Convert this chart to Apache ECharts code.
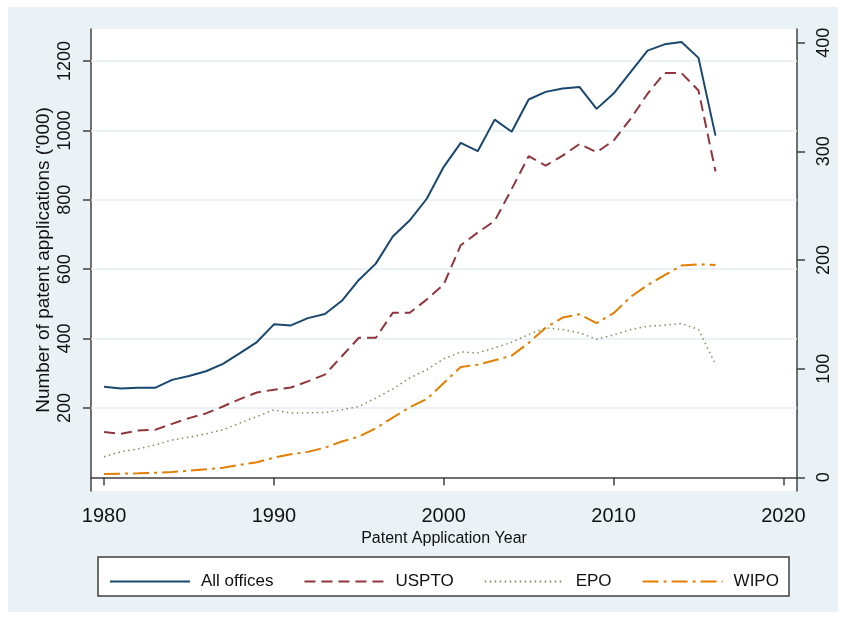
<!DOCTYPE html>
<html>
<head>
<meta charset="utf-8">
<script src="https://cdn.jsdelivr.net/npm/echarts@6/dist/echarts.min.js"></script>
<style>
  html, body { margin: 0; padding: 0; background: #fff; }
  #chart { width: 846px; height: 619px; }
</style>
</head>
<body>
<div id="chart"></div>
<script>
// 年份
const years = []
for (let y = 1980; y <= 2016; y++) years.push(y)
// 数据（千件）
const allOffices = [261, 256, 258, 258, 281, 292, 306, 327, 358, 390, 441, 438, 459, 471, 509, 569, 616, 694, 741, 803,
  895, 964, 940, 1031, 996, 1089, 1111, 1121, 1125, 1062, 1106, 1168, 1230, 1248, 1255, 1209, 985]
const uspto = [41.6, 40.0, 43.0, 43.7, 49.2, 54.5, 58.8, 65.2, 72.0, 78.1, 80.6, 82.7, 88.3, 94.5, 111.4, 128.4, 128.4, 151.4, 151.4, 163.7,
  177.6, 213.6, 225.3, 236, 265.3, 295.5, 286.8, 296, 306.8, 299.2, 309.9, 329.9, 353, 372, 372, 356, 281.6]
const epo = [19.0, 23.6, 26.1, 29.8, 34.4, 36.9, 40.0, 43.7, 49.9, 56.0, 62.1, 59.1, 59.4, 59.7, 62.1, 65.2, 72.9, 81.3, 91.4, 99.1,
  109, 115.4, 114.5, 119.1, 124.3, 131.4, 137.6, 136, 133, 127, 131, 136, 139, 140, 141.6, 136, 104]
const wipo = [3.0, 3.3, 3.7, 4.2, 4.9, 6.1, 7.4, 8.9, 11.4, 13.9, 18.1, 21.2, 23.4, 27.3, 32.9, 37.5, 45.2, 55.0, 64.6, 72.0,
  86.8, 101.6, 103.7, 107.7, 112, 123.7, 137.6, 147, 150, 142, 151, 166, 177, 186, 195, 196, 195.4]
// 刻度
const xTicks = [1980, 1990, 2000, 2010, 2020]
const leftTicks = [200, 400, 600, 800, 1000, 1200]
const rightTicks = [0, 100, 200, 300, 400]

const pair = arr => arr.map((v, i) => [years[i], v])
const font = 'Liberation Sans, Arial, sans-serif'
const axisCol = '#404040'
const plain = v => String(v)

const chart = echarts.init(document.getElementById('chart'))
chart.setOption({
  backgroundColor: '#ffffff',
  animation: false,
  graphic: [
    { type: 'rect', z: -100, shape: { x: 8, y: 7, width: 830, height: 605 }, style: { fill: '#eaf2f5' } },
    { type: 'rect', z: -50, shape: { x: 98, y: 557, width: 691, height: 39 },
      style: { fill: '#ffffff', stroke: axisCol, lineWidth: 1.5 } }
  ],
  grid: { left: 91, right: 49, top: 29, bottom: 128, show: true, backgroundColor: '#ffffff', borderWidth: 0 },
  legend: {
    left: 104, top: 568, itemWidth: 80, itemHeight: 14, itemGap: 30,
    itemStyle: { opacity: 0 },
    textStyle: { fontFamily: font, fontSize: 17, color: '#111', padding: [0, 0, 0, 6] },
    data: ['All offices', 'USPTO', 'EPO', 'WIPO']
  },
  xAxis: {
    type: 'value', min: 1979.23, max: 2020.8,
    name: 'Patent Application Year', nameLocation: 'middle', nameGap: 38,
    nameTextStyle: { fontFamily: font, fontSize: 16, color: '#111' },
    axisLine: { lineStyle: { color: axisCol, width: 1.5 } },
    axisTick: { customValues: xTicks, length: 8, lineStyle: { color: axisCol, width: 1.5 } },
    axisLabel: { customValues: xTicks, formatter: plain, margin: 15, fontFamily: font, fontSize: 20, color: '#111' },
    splitLine: { show: false }
  },
  yAxis: [
    {
      type: 'value', min: -39.2, max: 1292.2, position: 'left',
      name: "Number of patent applications ('000)", nameLocation: 'middle', nameGap: 38, nameRotate: 90,
      nameMoveOverlap: false,
      nameTextStyle: { fontFamily: font, fontSize: 19, color: '#111' },
      axisLine: { show: true, lineStyle: { color: axisCol, width: 1.5 } },
      axisTick: { show: true, customValues: leftTicks, length: 8, lineStyle: { color: axisCol, width: 1.5 } },
      axisLabel: { customValues: leftTicks, formatter: plain, rotate: 90, margin: 17, fontFamily: font, fontSize: 18, color: '#111' },
      splitLine: { show: false }
    },
    {
      type: 'value', min: -12.6, max: 412.6, position: 'right',
      axisLine: { show: true, lineStyle: { color: axisCol, width: 1.5 } },
      axisTick: { show: true, customValues: rightTicks, length: 8, lineStyle: { color: axisCol, width: 1.5 } },
      axisLabel: { customValues: rightTicks, formatter: plain, rotate: 90, margin: 18, fontFamily: font, fontSize: 18, color: '#111' },
      splitLine: { show: false }
    }
  ],
  series: [
    {
      name: 'All offices', type: 'line', yAxisIndex: 0, symbol: 'none', data: pair(allOffices),
      lineStyle: { color: '#1a476f', width: 2 }, itemStyle: { color: '#1a476f' },
      markLine: {
        silent: true, symbol: 'none', label: { show: false }, z: 1,
        lineStyle: { color: '#e3eef3', width: 1.5, type: 'solid' },
        data: leftTicks.map(v => ({ yAxis: v }))
      }
    },
    {
      name: 'USPTO', type: 'line', yAxisIndex: 1, symbol: 'none', data: pair(uspto),
      lineStyle: { color: '#90353b', width: 2, type: [11, 6] }, itemStyle: { color: '#90353b' }
    },
    {
      name: 'EPO', type: 'line', yAxisIndex: 1, symbol: 'none', data: pair(epo),
      lineStyle: { color: '#7a905c', width: 1.5, type: [1.5, 3.5] }, itemStyle: { color: '#7a905c' }
    },
    {
      name: 'WIPO', type: 'line', yAxisIndex: 1, symbol: 'none', data: pair(wipo),
      lineStyle: { color: '#e37e00', width: 2, type: [16, 5, 3, 5] }, itemStyle: { color: '#e37e00' }
    }
  ]
})
</script>
</body>
</html>
